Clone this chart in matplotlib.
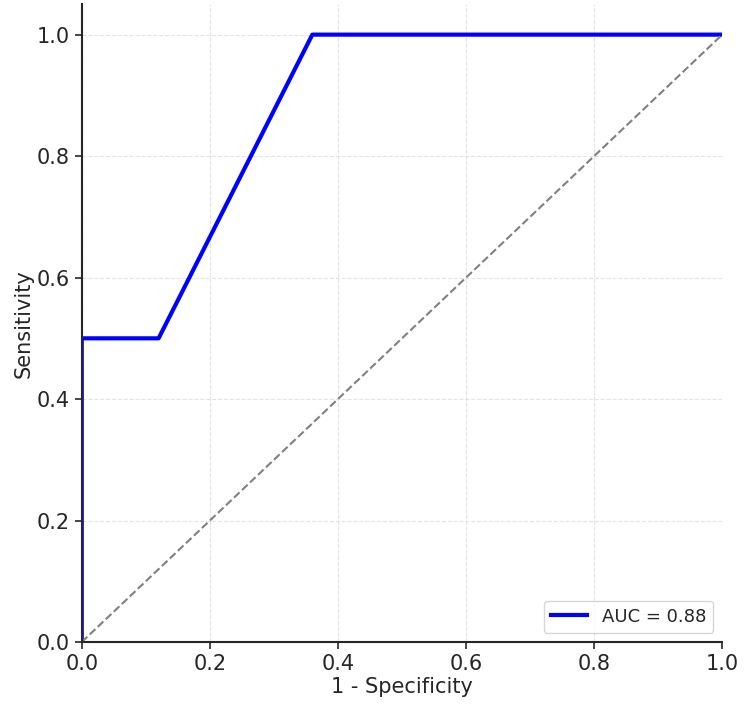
import matplotlib
matplotlib.use("Agg")
import matplotlib.pyplot as plt

fpr = [0.0, 0.0, 0.12, 0.36, 1.0]
tpr = [0.0, 0.5, 0.5, 1.0, 1.0]
auc_label = "AUC = 0.88"
diag = [0.0, 1.0]

plt.rcParams["text.color"] = "#262626"
plt.rcParams["axes.labelcolor"] = "#262626"
plt.rcParams["xtick.color"] = "#262626"
plt.rcParams["ytick.color"] = "#262626"

fig = plt.figure(figsize=(7.5, 7.11), dpi=100)
ax = fig.add_axes([0.109, 0.097, 0.854, 0.897])
ax.plot(fpr, tpr, color="blue", lw=3, label=auc_label)
ax.plot(diag, diag, color="gray", lw=1.5, ls="--")
ax.set_xlim(0, 1)
ax.set_ylim(0, 1.05)
ax.set_xticks([0, 0.2, 0.4, 0.6, 0.8, 1.0])
ax.set_yticks([0, 0.2, 0.4, 0.6, 0.8, 1.0])
ax.grid(True, ls="--", color="#dddddd", lw=0.8, alpha=0.8)
ax.spines["top"].set_visible(False)
ax.spines["right"].set_visible(False)
ax.spines["left"].set_linewidth(1.5)
ax.spines["bottom"].set_linewidth(1.5)
ax.spines["left"].set_color("#262626")
ax.spines["bottom"].set_color("#262626")
ax.tick_params(labelsize=15, width=1.2, length=5)
ax.set_xlabel("1 - Specificity", fontsize=15, labelpad=2)
ax.set_ylabel("Sensitivity", fontsize=15, labelpad=2)
ax.legend(loc="lower right", fontsize=13)
fig.savefig("out.png", dpi=100)
